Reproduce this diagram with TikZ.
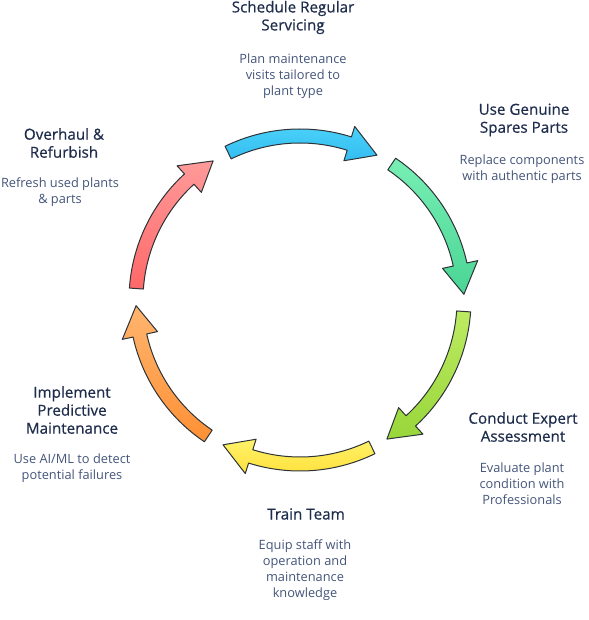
\documentclass[tikz,border=0pt]{standalone}
\usepackage{fontspec}
\setmainfont{Open Sans}
\newfontfamily\titlefont{Open Sans}[FakeBold=0.6]
\definecolor{titlecol}{HTML}{1F2D4D}
\definecolor{desccol}{HTML}{44557A}
\definecolor{edgecol}{HTML}{2E3338}
\definecolor{blueA}{HTML}{4CD2FA}\definecolor{blueB}{HTML}{33BDF0}
\definecolor{greenA}{HTML}{78EFB4}\definecolor{greenB}{HTML}{4AD595}
\definecolor{limeA}{HTML}{BDEB62}\definecolor{limeB}{HTML}{98D63A}
\definecolor{yelA}{HTML}{FFF26A}\definecolor{yelB}{HTML}{FFE03A}
\definecolor{oraA}{HTML}{FFB56E}\definecolor{oraB}{HTML}{FF9035}
\definecolor{redA}{HTML}{FF9A9A}\definecolor{redB}{HTML}{FF6868}
\tikzset{
  titletext/.style={align=center,text=titlecol,font=\titlefont\fontsize{15.2}{18}\selectfont,inner sep=0pt},
  desctext/.style={align=center,text=desccol,font=\fontsize{12.8}{16}\selectfont,inner sep=0pt},
  cyc/.style={draw=edgecol,line width=1pt,line join=round}
}
\newcommand\cycarrow[5]{%
  \pgfmathsetmacro\headbase{#2+10.5}%
  \draw[cyc,shading angle=#5,top color=#3,bottom color=#4]
    (#1:171) arc[start angle=#1,end angle=\headbase,radius=171]
    -- (\headbase:182) -- (#2:164) -- (\headbase:146) -- (\headbase:157)
    arc[start angle=\headbase,end angle=#1,radius=157] -- cycle;}
\begin{document}
\begin{tikzpicture}[x=1pt,y=1pt]
\useasboundingbox (0,0) rectangle (588,620);
\begin{scope}[shift={(300,320)}]
  \cycarrow{116}{62}{blueA}{blueB}{0}
  \cycarrow{56}{2}{greenA}{greenB}{0}
  \cycarrow{-4}{-58}{limeA}{limeB}{0}
  \cycarrow{-64}{-118}{yelA}{yelB}{0}
  \cycarrow{-124}{-178}{oraA}{oraB}{0}
  \cycarrow{176}{122}{redA}{redB}{0}
\end{scope}
\node[titletext] (t1) at (293,602.5) {Schedule Regular\\Servicing};
\node[desctext] (d1) at (293,544) {Plan maintenance\\visits tailored to\\plant type};
\node[titletext] (t2) at (524,500) {Use Genuine\\Spares Parts};
\node[desctext] (d2) at (522,451) {Replace components\\with authentic parts};
\node[titletext] (t3) at (523,193) {Conduct Expert\\Assessment};
\node[desctext] (d3) at (522,136) {Evaluate plant\\condition with\\Professionals};
\node[titletext] (t4) at (306,106) {Train Team};
\node[desctext] (d4) at (305,50) {Equip staff with\\operation and\\maintenance\\knowledge};
\node[titletext] (t5) at (72,210) {Implement\\Predictive\\Maintenance};
\node[desctext] (d5) at (72,152) {Use AI/ML to detect\\potential failures};
\node[titletext] (t6) at (64,477) {Overhaul \&\\Refurbish};
\node[desctext] (d6) at (60,428) {Refresh used plants\\\& parts};
\end{tikzpicture}
\end{document}
